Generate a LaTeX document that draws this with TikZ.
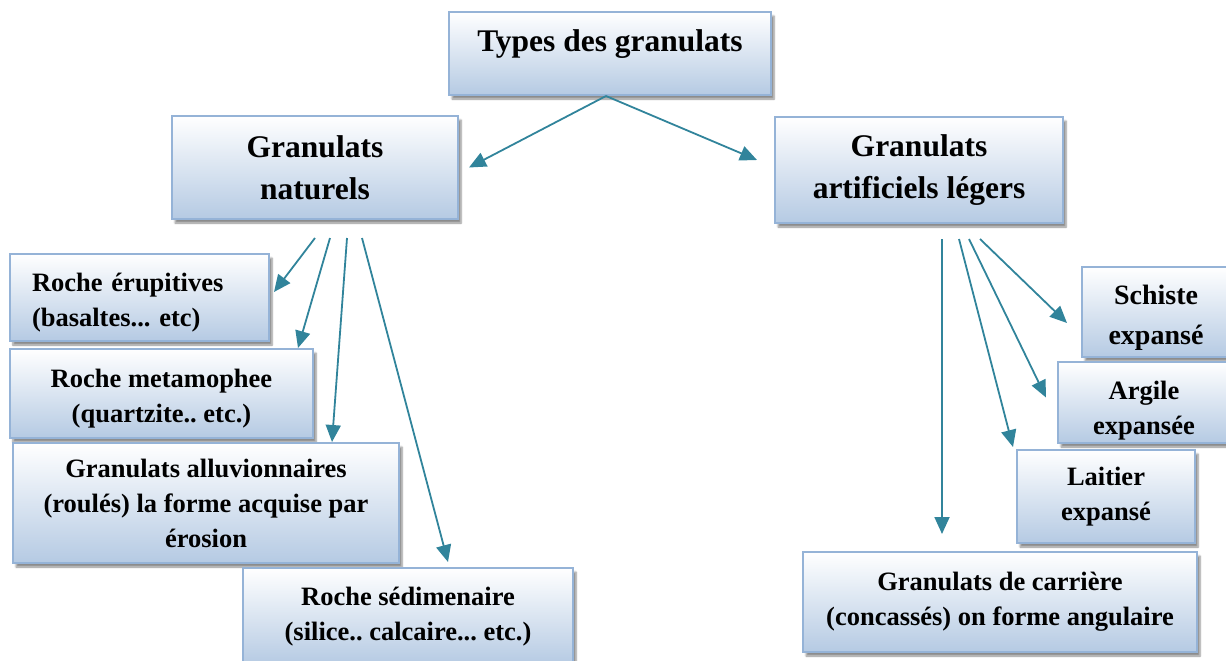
\documentclass[tikz,border=0pt]{standalone}
\usepackage{fontspec}
\setmainfont{Liberation Serif}
\usetikzlibrary{arrows.meta,shadows.blur}
\definecolor{bordc}{HTML}{95B3D7}
\definecolor{fillb}{HTML}{B5CAE3}
\definecolor{arrc}{HTML}{31849B}
\frenchspacing
\tikzset{
 box/.style={draw=bordc, line width=2pt, top color=white, bottom color=fillb,
   blur shadow={shadow xshift=3pt, shadow yshift=-4pt, shadow opacity=45, shadow blur steps=6},
   align=center, inner sep=0pt, font=\bfseries\fontsize{26.5}{35}\selectfont},
 bigbox/.style={box, font=\bfseries\fontsize{31.5}{42}\selectfont},
 arr/.style={draw=arrc, line width=1.8pt, -{Triangle[length=17pt,width=15pt]}}
}
\begin{document}
\begin{tikzpicture}[x=1pt,y=-1pt]
\useasboundingbox (0,0) rectangle (1226,661);
% top
\node[bigbox, minimum width=322pt, minimum height=83pt, text height=22pt, text depth=26pt] (title) at (610,53.5) {Types des granulats};
\node[bigbox, minimum width=286pt, minimum height=103pt] (nat) at (315,167.5) {Granulats\\naturels};
\node[bigbox, minimum width=288pt, minimum height=106pt] (art) at (919,170) {Granulats\\artificiels légers};
% left column
\node[box, minimum width=259pt, minimum height=87pt, text width=215pt, align=left, text height=29pt, text depth=41pt] (eru) at (139.5,297.5) {Roche érupitives\\(basaltes... etc)};
\node[box, minimum width=303pt, minimum height=89pt, text height=64pt, text depth=6pt] (meta) at (161.5,393.5) {Roche metamophee\\(quartzite.. etc.)};
\node[box, minimum width=386pt, minimum height=120pt] (allu) at (206,503) {Granulats alluvionnaires\\(roulés) la forme acquise par\\érosion};
\node[box, minimum width=330pt, minimum height=97pt] (sed) at (408,616.5) {Roche sédimenaire\\(silice.. calcaire... etc.)};
% right column
\node[box, minimum width=148pt, minimum height=90pt, font=\bfseries\fontsize{28}{40}\selectfont, text height=71pt, text depth=6pt] (sch) at (1156,312) {Schiste\\expansé};
\node[box, minimum width=172pt, minimum height=81pt, text height=69pt, text depth=6pt] (arg) at (1144,402.5) {Argile\\expansée};
\node[box, minimum width=178pt, minimum height=93pt] (lait) at (1106,496.5) {Laitier\\expansé};
\node[box, minimum width=394pt, minimum height=100pt] (carr) at (1000,602) {Granulats de carrière\\(concassés) on forme angulaire};
% arrows
\draw[arr] ([shift={(-4,0)}]title.south) -- ([shift={(10,0)}]nat.east);
\draw[arr] ([shift={(-4,0)}]title.south) -- ([shift={(-17,-10)}]art.west);
\draw[arr] ([shift={(0,18)}]nat.south) -- ([shift={(4,-5.5)}]eru.east);
\draw[arr] ([shift={(15,18)}]nat.south) -- ([shift={(-16,0)}]meta.north east);
\draw[arr] ([shift={(32,18)}]nat.south) -- ([shift={(126,0)}]allu.north);
\draw[arr] ([shift={(47,18)}]nat.south) -- ([shift={(40,-5)}]sed.north);
\draw[arr] ([shift={(23,15)}]art.south) -- ([shift={(-58,-17)}]carr.north);
\draw[arr] ([shift={(40,15)}]art.south) -- ([shift={(-3,-2)}]lait.north west);
\draw[arr] ([shift={(50,15)}]art.south) -- ([shift={(-11,-5)}]arg.west);
\draw[arr] ([shift={(61,15)}]art.south) -- ([shift={(-14,11)}]sch.west);
\end{tikzpicture}
\end{document}
